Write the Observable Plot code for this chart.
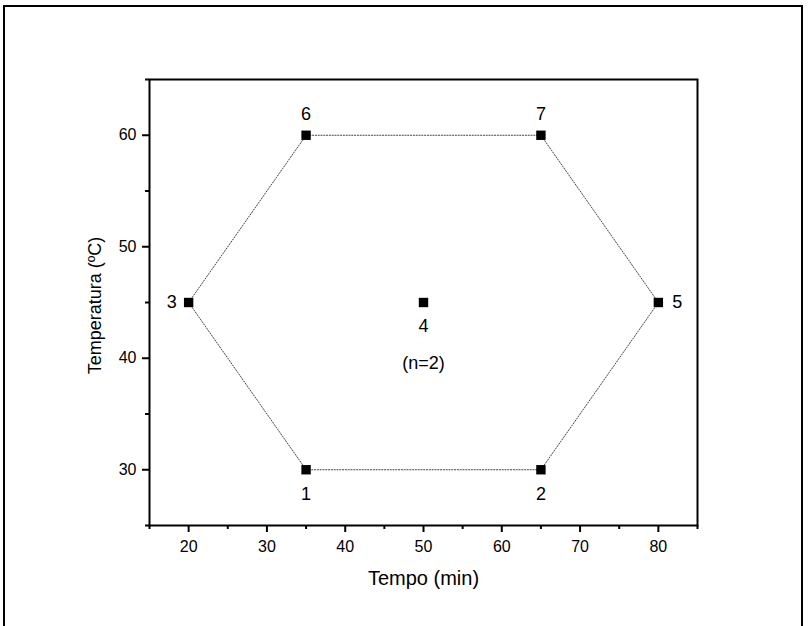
<!DOCTYPE html>
<html>
<head>
<meta charset="utf-8">
<script src="https://cdn.jsdelivr.net/npm/d3@7"></script>
<script src="https://cdn.jsdelivr.net/npm/@observablehq/plot@0.6"></script>
<style>
  html, body { margin: 0; padding: 0; background: #fff; overflow: hidden; }
  #wrap { position: relative; width: 808px; height: 626px; }
  #border { position: absolute; left: 3px; top: 5px; width: 800px; height: 660px; border: 2px solid #000; box-sizing: border-box; pointer-events: none; }
  svg { font-family: "Liberation Sans", Arial, sans-serif; }
</style>
</head>
<body>
<div id="wrap"><div id="border"></div></div>
<script>
// Experimental points (Tempo in min, Temperatura in ºC)
const ids = ["1", "2", "3", "4", "5", "6", "7"];
const tempo = [35, 65, 20, 50, 80, 35, 65];
const temperatura = [30, 30, 45, 45, 45, 60, 60];
// Order for the hexagon outline
const hexOrder = ["1", "2", "5", "7", "6", "3", "1"];
// Tick labels
const xTicks = [20, 30, 40, 50, 60, 70, 80];
const xMinor = [15, 25, 35, 45, 55, 65, 75, 85];
const yTicks = [30, 40, 50, 60];
const yMinor = [25, 35, 45, 55, 65];
const xLabel = "Tempo (min)";
const yLabel = "Temperatura (ºC)";
const centerNote = "(n=2)";

const pts = ids.map((id, i) => ({id, x: tempo[i], y: temperatura[i]}));
const byId = Object.fromEntries(pts.map(p => [p.id, p]));
const hex = hexOrder.map(id => byId[id]);

const below = pts.filter(p => ["1", "2", "4"].includes(p.id));
const above = pts.filter(p => ["6", "7"].includes(p.id));
const left = pts.filter(p => p.id === "3");
const right = pts.filter(p => p.id === "5");
const center = pts.filter(p => p.id === "4");

const chart = Plot.plot({
  width: 808,
  height: 626,
  marginLeft: 149,
  marginRight: 111,
  marginTop: 79,
  marginBottom: 101,
  style: {fontFamily: "'Liberation Sans', Arial, sans-serif", color: "#000", background: "transparent"},
  x: {domain: [15, 85]},
  y: {domain: [25, 65]},
  marks: [
    Plot.line(hex, {x: "x", y: "y", stroke: "#444", strokeWidth: 1, strokeDasharray: "1.2,1.6"}),
    Plot.dot(pts, {x: "x", y: "y", symbol: "square", r: 5.3, fill: "#000", stroke: "none"}),
    Plot.text(below, {x: "x", y: "y", text: "id", dy: 24, fontSize: 18}),
    Plot.text(above, {x: "x", y: "y", text: "id", dy: -21, fontSize: 18}),
    Plot.text(left, {x: "x", y: "y", text: "id", dx: -17, fontSize: 18}),
    Plot.text(right, {x: "x", y: "y", text: "id", dx: 19, fontSize: 18}),
    Plot.text(center, {x: "x", y: "y", text: () => centerNote, dy: 61, fontSize: 18}),
    Plot.axisX({ticks: xMinor, tickSize: 4, tickFormat: () => "", strokeWidth: 2, label: null}),
    Plot.axisX({ticks: xTicks, tickSize: 7, tickPadding: 8, fontSize: 16, strokeWidth: 2, label: null}),
    Plot.axisY({ticks: yMinor, tickSize: 4, tickFormat: () => "", strokeWidth: 2, label: null}),
    Plot.axisY({ticks: yTicks, tickSize: 7, tickPadding: 6, fontSize: 16, strokeWidth: 2, label: null}),
    Plot.frame({stroke: "#000", strokeWidth: 2}),
    Plot.text([xLabel], {frameAnchor: "bottom", text: d => d, dy: 59, fontSize: 20}),
    Plot.text([yLabel], {frameAnchor: "left", text: d => d, textAnchor: "middle", rotate: -90, dx: -54, dy: 3, fontSize: 18})
  ]
});
document.getElementById("wrap").appendChild(chart);
chart.style.position = "absolute";
chart.style.left = "0";
chart.style.top = "0";
</script>
</body>
</html>
